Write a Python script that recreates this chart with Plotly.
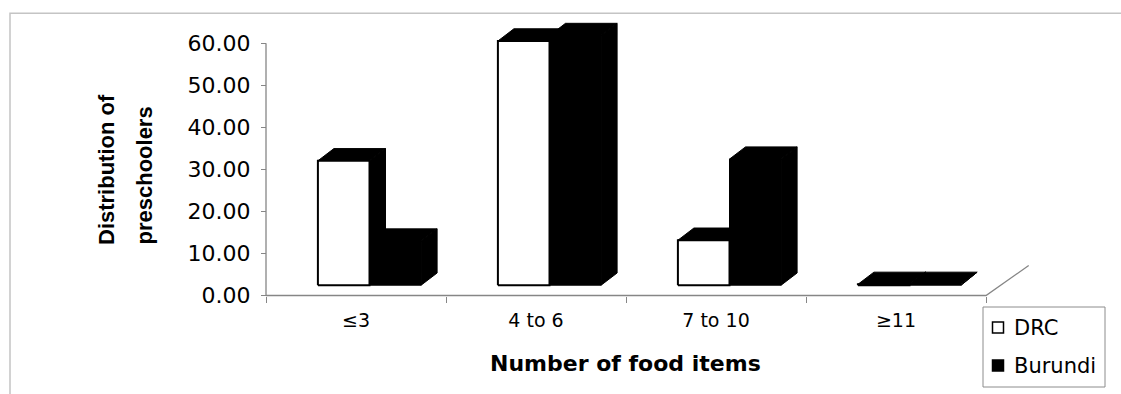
import plotly.graph_objects as go

# Food-item counts eaten by preschoolers, share of children (%) per country
categories = ["≤3", "4 to 6", "7 to 10", "≥11"]
drc = [29.6, 58.1, 10.7, 0.2]
burundi = [10.5, 59.4, 30.0, 0.2]
series_names = ["DRC", "Burundi"]
series_front = ["white", "black"]
y_ticks = [0, 10, 20, 30, 40, 50, 60]
y_tick_text = ["0.00", "10.00", "20.00", "30.00", "40.00", "50.00", "60.00"]

W, H = 1121, 394
# pixel frame of the category / value axes inside the canvas
AX_LEFT, AX_RIGHT = 266, 986
AX_ZERO, AX_TOP = 295.5, 43.3
n = len(categories)
ux = n / (AX_RIGHT - AX_LEFT)          # category units per pixel
uy = y_ticks[-1] / (AX_ZERO - AX_TOP)  # value units per pixel

x_range = [-0.5 - AX_LEFT * ux, -0.5 + (W - AX_LEFT) * ux]
y_range = [-(H - AX_ZERO) * uy, AX_ZERO * uy]


def off(dx_px, dy_px):
    """Oblique offset given in pixels (dy upward) converted to data units."""
    return dx_px * ux, dy_px * uy


FRONT = off(13.5, 10.3)   # bars sit a little back from the floor's front edge
DEPTH = off(16.0, 12.2)   # depth of each column
FLOOR = off(42.7, 30.0)   # full depth of the floor
BAR_W = 51.6 * ux

AXIS_COL = "#868686"
FONT = "DejaVu Sans"

fig = go.Figure()

# floor edges and value axis
x_first, x_last = -0.5, n - 0.5
fig.add_trace(go.Scatter(
    x=[x_first, x_first, None, x_first, x_last, x_last + FLOOR[0]],
    y=[y_ticks[-1], 0, None, 0, 0, FLOOR[1]],
    mode="lines", line=dict(color=AXIS_COL, width=1.3),
    hoverinfo="skip", showlegend=False,
))


def column_faces(x0, value):
    """Front, top and right-side polygons of one 3-D column."""
    dx, dy = DEPTH
    y0 = FRONT[1]
    y1 = y0 + value
    x1 = x0 + BAR_W
    front = ([x0, x1, x1, x0, x0], [y0, y0, y1, y1, y0])
    top = ([x0, x1, x1 + dx, x0 + dx, x0], [y1, y1, y1 + dy, y1 + dy, y1])
    side = ([x1, x1 + dx, x1 + dx, x1, x1], [y0, y0 + dy, y1 + dy, y1, y0])
    return front, top, side


def poly(xs, ys, fill, line_w=1.0):
    return go.Scatter(
        x=xs, y=ys, mode="lines", fill="toself", fillcolor=fill,
        line=dict(color="black", width=line_w),
        hoverinfo="skip", showlegend=False,
    )


for i in range(n):
    left = i + FRONT[0] - BAR_W
    d_front, d_top, d_side = column_faces(left, drc[i])
    b_front, b_top, b_side = column_faces(left + BAR_W, burundi[i])
    # Burundi column (solid black)
    for xs, ys in (b_side, b_top, b_front):
        fig.add_trace(poly(xs, ys, "black"))
    # DRC column: dark top and side, white front
    for xs, ys in (d_side, d_top):
        fig.add_trace(poly(xs, ys, "black"))
    fig.add_trace(poly(*d_front, "white", line_w=2.0))

# legend box drawn in canvas coordinates
LEG_X0, LEG_X1, LEG_Y0, LEG_Y1 = 983, 1105, 307, 387
LEG_ROWS = [327.5, 365.5]
shapes = [
    dict(type="rect", xref="paper", yref="paper",
         x0=10 / W, x1=1.05, y0=-0.05, y1=1 - 13.3 / H,
         line=dict(color="#c4c4c4", width=1.5), layer="below"),
    dict(type="rect", xref="paper", yref="paper",
         x0=LEG_X0 / W, x1=LEG_X1 / W, y0=1 - LEG_Y1 / H, y1=1 - LEG_Y0 / H,
         line=dict(color="#8c8c8c", width=1), fillcolor="white"),
]
legend_text = []
for name, colour, row in zip(series_names, series_front, LEG_ROWS):
    shapes.append(dict(
        type="rect", xref="paper", yref="paper",
        x0=992.5 / W, x1=1003.5 / W, y0=1 - (row + 5.5) / H, y1=1 - (row - 5.5) / H,
        line=dict(color="black", width=1.5), fillcolor=colour,
    ))
    legend_text.append(dict(
        text=name, xref="paper", yref="paper", x=1012 / W, y=1 - row / H,
        xanchor="left", yanchor="middle", showarrow=False,
        font=dict(family=FONT, size=21, color="black"),
    ))

fig.update_layout(
    width=W, height=H,
    margin=dict(l=0, r=0, t=0, b=0, pad=0),
    paper_bgcolor="white", plot_bgcolor="white",
    showlegend=False,
    font=dict(family=FONT, color="black"),
    xaxis=dict(
        range=x_range, showgrid=False, zeroline=False, showline=False,
        tickmode="array", tickvals=list(range(n)), ticktext=categories,
        ticks="", tickfont=dict(family=FONT, size=19, color="black"),
        minor=dict(tickvals=[k - 0.5 for k in range(n + 1)], ticks="outside",
                   ticklen=6, tickwidth=1, tickcolor=AXIS_COL, showgrid=False),
        anchor="free", position=(H - AX_ZERO) / H, fixedrange=True,
        ticklabelstandoff=11,
    ),
    yaxis=dict(
        range=y_range, showgrid=False, zeroline=False, showline=False,
        tickmode="array", tickvals=y_ticks, ticktext=y_tick_text,
        ticks="outside", ticklen=5, tickwidth=1, tickcolor=AXIS_COL,
        tickfont=dict(family=FONT, size=22, color="black"),
        anchor="free", position=AX_LEFT / W, fixedrange=True,
        ticklabelstandoff=6,
    ),
    shapes=shapes,
    annotations=[
        dict(text="<b>Number of food items</b>", xref="paper", yref="paper",
             x=625.5 / W, y=1 - 363 / H, xanchor="center", yanchor="middle",
             showarrow=False, font=dict(family=FONT, size=22, color="black")),
        dict(text="<b>Distribution of</b>", xref="paper", yref="paper",
             x=106 / W, y=1 - 170 / H, xanchor="center", yanchor="middle",
             textangle=-90, showarrow=False,
             font=dict(family="Liberation Sans", size=22, color="black")),
        dict(text="<b>preschoolers</b>", xref="paper", yref="paper",
             x=144 / W, y=1 - 175.5 / H, xanchor="center", yanchor="middle",
             textangle=-90, showarrow=False,
             font=dict(family="Liberation Sans", size=22, color="black")),
    ] + legend_text,
)

fig.write_html("out.html", config={"displayModeBar": False, "staticPlot": True})
